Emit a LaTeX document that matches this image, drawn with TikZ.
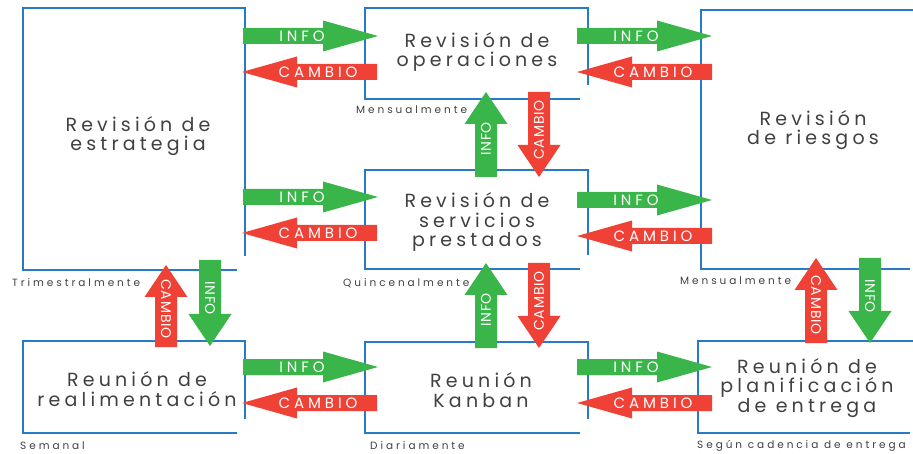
\documentclass[tikz,border=0pt]{standalone}
\usepackage{fontspec}
\setmainfont{Poppins}
\newfontfamily\boxfont[LetterSpace=22]{Poppins}
\newfontfamily\lblfont[LetterSpace=28]{Poppins}
\newfontfamily\arrfont[LetterSpace=26]{Poppins}
\newfontfamily\varrfont[LetterSpace=6]{Poppins}
\definecolor{agreen}{RGB}{57,181,74}
\definecolor{ared}{RGB}{239,65,54}
\definecolor{bblue}{RGB}{38,122,198}
\definecolor{tgray}{RGB}{64,64,64}
\tikzset{
  boxnode/.style={inner sep=0pt, outer sep=0pt},
  boxedge/.style={draw=bblue, line width=2.6pt, line join=miter},
  title/.style={align=center, text=tgray, font=\boxfont\fontsize{19}{19.5}\selectfont, inner sep=0pt},
  freq/.style={anchor=west, text=tgray, font=\lblfont\fontsize{10.5}{12}\selectfont, inner sep=0pt},
  arrtext/.style={text=white, font=\arrfont\fontsize{15}{16}\selectfont, inner sep=0pt},
  varrtext/.style={text=white, font=\varrfont\fontsize{14}{15}\selectfont, inner sep=0pt},
}
% horizontal block arrow: color, tail x, y, angle, text
\newcommand\harrow[5]{%
  \begin{scope}[shift={(#2,#3)}, rotate=#4]
    \fill[#1] (0,-8) -- (80,-8) -- (80,-15.5) -- (135,0) -- (80,15.5) -- (80,8) -- (0,8) -- cycle;
    \node[arrtext] at (59,0) {#5};
  \end{scope}}
% vertical block arrow: color, x, tail y, length, angle, text rotation, text
\newcommand\varrow[7]{%
  \begin{scope}[shift={(#2,#3)}, rotate=#5]
    \fill[#1] (0,-11) -- ({#4-32},-11) -- ({#4-32},-21.5) -- (#4,0) -- ({#4-32},21.5) -- ({#4-32},11) -- (0,11) -- cycle;
    \node[varrtext, rotate=#6] at (38,0) {#7};
  \end{scope}}
\newcommand\boxedges[1]{%
  \draw[boxedge] ([yshift=14pt]#1.south east) -- (#1.north east) -- (#1.north west) -- (#1.south west) -- ([xshift=-8pt]#1.south east);}
\begin{document}
\begin{tikzpicture}[x=1pt,y=-1pt]
\useasboundingbox[fill=white] (0,0) rectangle (913,454);
% boxes
\node[boxnode, minimum width=222, minimum height=262] (b1) at (134,139) {};
\node[boxnode, minimum width=223, minimum height=91] (b2) at (476.5,53.5) {};
\node[boxnode, minimum width=217, minimum height=259] (b3) at (809.5,139.5) {};
\node[boxnode, minimum width=223, minimum height=99] (b4) at (476.5,219.5) {};
\node[boxnode, minimum width=222, minimum height=92] (b5) at (134,387) {};
\node[boxnode, minimum width=223, minimum height=91] (b6) at (476.5,387.5) {};
\node[boxnode, minimum width=220, minimum height=92] (b7) at (808,387) {};
\foreach \b in {b1,b2,b3,b4,b5,b6,b7} {\boxedges{\b}}
% titles
\node[title] (t1) at (138,136) {Revisión de\\estrategia};
\node[title] (t2) at (477,52) {Revisión de\\operaciones};
\node[title] (t3) at (813,130) {Revisión\\de riesgos};
\node[title] (t4) at (477,222) {Revisión de\\servicios\\prestados};
\node[title] (t5) at (137,389) {Reunión de\\realimentación};
\node[title] (t6) at (481,390) {Reunión\\Kanban};
\node[title] (t7) at (807,388) {Reunión de\\planificación\\de entrega};
% frequencies
\node[freq] (f1) at (356,110) {Mensualmente};
\node[freq] (f2) at (12,283) {Trimestralmente};
\node[freq] (f3) at (343,283) {Quincenalmente};
\node[freq] (f4) at (680,281) {Mensualmente};
\node[freq] (f5) at (20,446) {Semanal};
\node[freq] (f6) at (370,446) {Diariamente};
\node[freq] (f7) at (697,446) {Según cadencia de entrega};
% horizontal arrows
\harrow{agreen}{243}{36}{0}{INFO}
\harrow{ared}{377}{72}{180}{CAMBIO}
\harrow{agreen}{577}{36}{0}{INFO}
\harrow{ared}{712}{72}{180}{CAMBIO}
\harrow{agreen}{243}{197}{0}{INFO}
\harrow{ared}{377}{233}{180}{CAMBIO}
\harrow{agreen}{577}{200}{0}{INFO}
\harrow{ared}{712}{236}{180}{CAMBIO}
\harrow{agreen}{243}{367}{0}{INFO}
\harrow{ared}{377}{403}{180}{CAMBIO}
\harrow{agreen}{577}{367}{0}{INFO}
\harrow{ared}{712}{403}{180}{CAMBIO}
% vertical arrows
\varrow{agreen}{486}{177}{85}{90}{90}{INFO}
\varrow{ared}{539}{92}{85}{-90}{90}{CAMBIO}
\varrow{agreen}{486}{348}{85}{90}{90}{INFO}
\varrow{ared}{539}{263}{85}{-90}{90}{CAMBIO}
\varrow{ared}{166}{347}{82}{90}{-90}{CAMBIO}
\varrow{agreen}{210}{260}{86}{-90}{-90}{INFO}
\varrow{ared}{816}{343}{85}{90}{-90}{CAMBIO}
\varrow{agreen}{870}{258}{85}{-90}{-90}{INFO}
\end{tikzpicture}
\end{document}
